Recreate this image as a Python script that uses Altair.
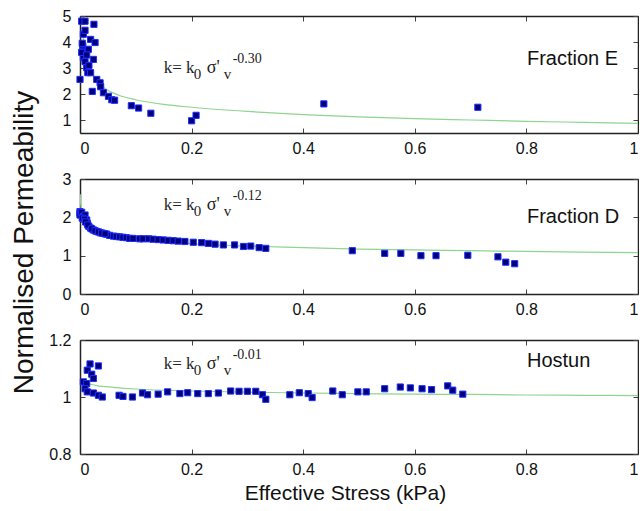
import altair as alt
import pandas as pd

SANS = "Liberation Sans"
SERIF = "Liberation Serif"

X_TICKS = [0, 0.2, 0.4, 0.6, 0.8, 1]

# ---- Fraction E ----
E_x = [0.0, 0.003, 0.009, 0.025, 0.006, 0.009, 0.019, 0.027, 0.005, 0.006, 0.015, 0.006,
       0.009, 0.024, 0.012, 0.014, 0.019, 0.030, 0.036, 0.037, 0.022, 0.042, 0.051, 0.057,
       0.062, 0.092, 0.105, 0.127, 0.200, 0.208, 0.437, 0.713, 0.003, 0.004, 0.012, 0.016]
E_y = [2.56, 4.80, 4.80, 4.68, 4.30, 4.45, 4.10, 3.98, 3.85, 3.65, 3.72, 3.40,
       3.25, 3.33, 3.01, 2.82, 2.82, 2.56, 2.43, 2.28, 2.10, 2.05, 1.91, 1.78,
       1.76, 1.55, 1.46, 1.26, 0.97, 1.18, 1.62, 1.49, 3.60, 3.95, 3.50, 3.10]
E_fit_x = [0.005, 0.01, 0.02, 0.04, 0.07, 0.1, 0.15, 0.2, 0.3, 0.4, 0.5, 0.6, 0.7, 0.8, 0.9, 1.0]
E_fit_y = [4.3, 3.5, 2.85, 2.3, 1.95, 1.78, 1.6, 1.49, 1.33, 1.21, 1.12, 1.05, 1.0, 0.95, 0.91, 0.87]

# ---- Fraction D ----
D_x = [0.0, 0.0, 0.0, 0.003, 0.006, 0.009, 0.012, 0.013, 0.016, 0.019, 0.024, 0.03, 0.036,
       0.042, 0.048, 0.053, 0.06, 0.065, 0.071, 0.077, 0.083, 0.089, 0.095, 0.107, 0.113,
       0.123, 0.131, 0.14, 0.149, 0.158, 0.167, 0.176, 0.188, 0.203, 0.218, 0.230, 0.242,
       0.257, 0.277, 0.293, 0.306, 0.321, 0.333, 0.488, 0.546, 0.575, 0.611, 0.638, 0.695,
       0.749, 0.763, 0.779, 0.004, 0.008, 0.010, 0.014, 0.021, 0.027, 0.033, 0.039, 0.045]
D_y = [2.15, 2.11, 2.06, 2.13, 2.02, 2.06, 1.93, 1.85, 1.76, 1.72, 1.67, 1.63, 1.60,
       1.58, 1.56, 1.53, 1.51, 1.50, 1.49, 1.48, 1.47, 1.45, 1.45, 1.44, 1.44,
       1.44, 1.43, 1.42, 1.41, 1.40, 1.39, 1.38, 1.37, 1.35, 1.34, 1.32, 1.30,
       1.28, 1.28, 1.24, 1.25, 1.21, 1.19, 1.13, 1.06, 1.06, 1.00, 1.00, 1.01,
       0.97, 0.83, 0.79, 1.98, 1.95, 1.88, 1.80, 1.70, 1.65, 1.62, 1.59, 1.57]
D_fit_x = [0.0005, 0.001, 0.003, 0.01, 0.03, 0.06, 0.1, 0.2, 0.3, 0.4, 0.5, 0.6, 0.7, 0.8, 0.9, 1.0]
D_fit_y = [2.6, 2.4, 2.15, 1.88, 1.65, 1.51, 1.42, 1.31, 1.25, 1.21, 1.17, 1.15, 1.13, 1.11, 1.09, 1.08]

# ---- Hostun ----
H_x = [0.018, 0.033, 0.013, 0.021, 0.024, 0.006, 0.012, 0.009, 0.013, 0.024, 0.033, 0.040,
       0.070, 0.077, 0.094, 0.112, 0.121, 0.140, 0.157, 0.179, 0.193, 0.211, 0.230, 0.248,
       0.270, 0.285, 0.300, 0.315, 0.327, 0.333, 0.376, 0.393, 0.409, 0.416, 0.453, 0.470,
       0.498, 0.513, 0.546, 0.574, 0.592, 0.613, 0.630, 0.659, 0.668, 0.686]
H_y = [1.116, 1.109, 1.094, 1.080, 1.065, 1.053, 1.047, 1.029, 1.018, 1.014, 1.006, 1.000,
       1.006, 1.002, 1.000, 1.014, 1.008, 1.010, 1.018, 1.012, 1.015, 1.012, 1.012, 1.014,
       1.021, 1.020, 1.020, 1.020, 1.008, 0.992, 1.008, 1.015, 1.012, 0.998, 1.021, 1.008,
       1.018, 1.018, 1.029, 1.035, 1.032, 1.029, 1.026, 1.039, 1.024, 1.010]
H_fit_x = [0.004, 0.01, 0.03, 0.06, 0.1, 0.2, 0.3, 0.4, 0.5, 0.6, 0.7, 0.8, 0.9, 1.0]
H_fit_y = [1.06, 1.052, 1.04, 1.034, 1.028, 1.021, 1.017, 1.014, 1.012, 1.010, 1.009, 1.007, 1.006, 1.005]

PANELS = [
    dict(px=E_x, py=E_y, fx=E_fit_x, fy=E_fit_y, ydom=[0.5, 5], yticks=[1, 2, 3, 4, 5],
         label="Fraction E", label_y=3.12, exp="-0.30", f_x=0.150, f_y=2.81, height=117),
    dict(px=D_x, py=D_y, fx=D_fit_x, fy=D_fit_y, ydom=[0, 3], yticks=[0, 1, 2, 3],
         label="Fraction D", label_y=1.85, exp="-0.12", f_x=0.150, f_y=2.19, height=115),
    dict(px=H_x, py=H_y, fx=H_fit_x, fy=H_fit_y, ydom=[0.8, 1.2], yticks=[0.8, 1, 1.2],
         label="Hostun", label_y=1.105, exp="-0.01", f_x=0.150, f_y=1.098, height=114),
]

LABEL_X = 0.801
FRAME = dict(domain=True, domainColor="#222", domainWidth=1.5, ticks=False,
             labels=False, grid=False, title=None)


def make_panel(i, p):
    xs = alt.Scale(domain=[0, 1], nice=False)
    ys = alt.Scale(domain=p["ydom"], nice=False, zero=False)

    xb_kw = dict(orient="bottom", values=X_TICKS, format="~g", offset=-5, tickSize=5,
                 domain=False, grid=False, labelPadding=7, tickColor="#444")
    if i == 2:
        xb_kw.update(title="Effective Stress (kPa)", titleX=265, titlePadding=5,
                     titleFontSize=21)
    else:
        xb_kw.update(title=None)
    yl_kw = dict(orient="left", values=p["yticks"], format="~g", offset=-5, tickSize=5,
                 domain=False, grid=False, labelPadding=9, tickColor="#444")
    if i == 1:
        yl_kw.update(title="Normalised Permeability", titleY=63, titlePadding=24,
                     titleFontSize=28)
    else:
        yl_kw.update(title=None)

    xt = alt.Axis(orient="top", values=X_TICKS, labels=False, offset=-5, tickSize=5,
                  domain=False, grid=False, title=None, tickColor="#444")
    yr = alt.Axis(orient="right", values=p["yticks"], labels=False, offset=-5, tickSize=5,
                  domain=False, grid=False, title=None, tickColor="#444")

    pts = pd.DataFrame({"s": p["px"], "k": p["py"]})
    fit = pd.DataFrame({"s": p["fx"], "k": p["fy"]})

    line = alt.Chart(fit).mark_line(color="#8fd48f", strokeWidth=1.2,
                                    interpolate="monotone", clip=True).encode(
        x=alt.X("s:Q", scale=xs, axis=xt),
        y=alt.Y("k:Q", scale=ys, axis=yr),
    )
    points = alt.Chart(pts).mark_square(size=38, filled=True, color="#00007a",
                                        stroke="#1f2dff", strokeWidth=1,
                                        opacity=1).encode(
        x=alt.X("s:Q", scale=xs, axis=alt.Axis(**xb_kw)),
        y=alt.Y("k:Q", scale=ys, axis=alt.Axis(**yl_kw)),
    )

    pieces = [
        ("k= k", 0, 0, 17),
        ("0", 30, 6, 15),
        ("\u03c3'", 43, 0, 18),
        ("v", 60, 6, 15),
        (p["exp"], 69, -10, 14),
    ]
    frame_axes = [
        (alt.Axis(orient="bottom", **FRAME), alt.Axis(orient="left", **FRAME)),
        (alt.Axis(orient="top", **FRAME), alt.Axis(orient="right", **FRAME)),
    ]
    layers = [line, points]
    for j, (txt, dx, dy, fs) in enumerate(pieces):
        df = pd.DataFrame({"s": [p["f_x"]], "k": [p["f_y"]], "t": [txt]})
        ax_x, ax_y = frame_axes[j] if j < 2 else (None, None)
        layers.append(
            alt.Chart(df).mark_text(font=SERIF, fontSize=fs, align="left",
                                    baseline="alphabetic", dx=dx, dy=dy,
                                    color="#222").encode(
                x=alt.X("s:Q", scale=xs, axis=ax_x),
                y=alt.Y("k:Q", scale=ys, axis=ax_y),
                text="t:N",
            )
        )
    lab = pd.DataFrame({"s": [LABEL_X], "k": [p["label_y"]], "t": [p["label"]]})
    layers.append(
        alt.Chart(lab).mark_text(font=SANS, fontSize=20, align="left",
                                 baseline="alphabetic", color="#111").encode(
            x=alt.X("s:Q", scale=xs, axis=None),
            y=alt.Y("k:Q", scale=ys, axis=None),
            text="t:N",
        )
    )
    return alt.layer(*layers).resolve_axis(x="independent", y="independent").properties(
        width=558, height=p["height"])


chart = alt.vconcat(*[make_panel(i, p) for i, p in enumerate(PANELS)],
                    spacing=46, bounds="flush").properties(
    padding={"left": 10, "top": 8, "right": 0, "bottom": 4},
    background="white",
).configure_view(
    strokeWidth=0
).configure_axis(
    labelFont=SANS, labelFontSize=16, labelColor="#111",
    titleFont=SANS, titleColor="#111", titleFontWeight="normal",
)

chart.save("out.html", embed_options={"renderer": "svg", "actions": False})
